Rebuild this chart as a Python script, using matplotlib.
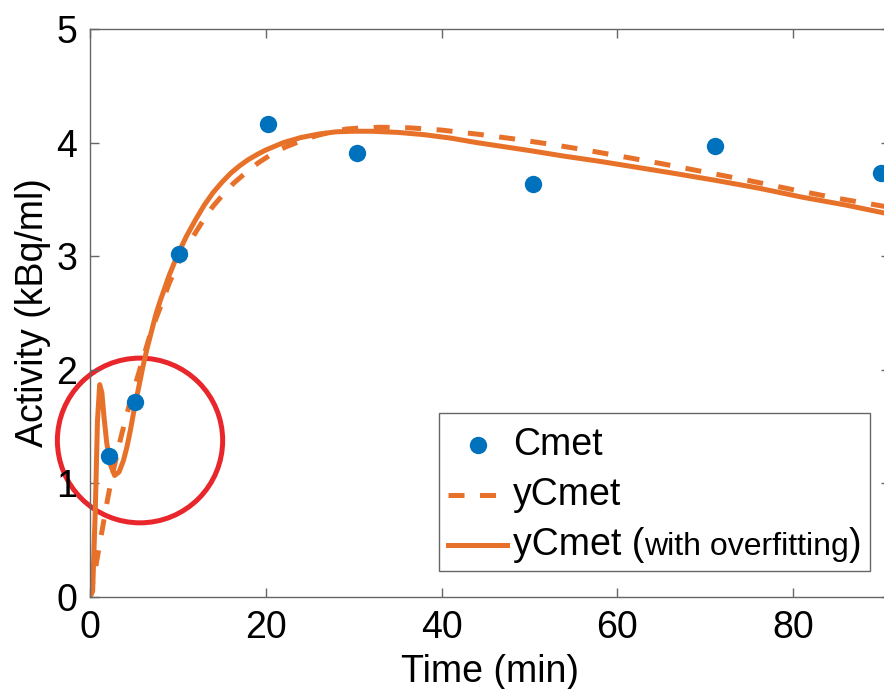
import matplotlib.pyplot as plt
from matplotlib.patches import Ellipse
from matplotlib.lines import Line2D
from matplotlib.offsetbox import AnchoredOffsetbox, DrawingArea, TextArea, HPacker, VPacker

plt.rcParams['font.family'] = ['Liberation Sans', 'DejaVu Sans']

# Measured metabolite activity (Cmet)
t_meas = [2.2, 5.1, 10.1, 20.3, 30.4, 50.4, 71.1, 90.0]
c_meas = [1.24, 1.72, 3.02, 4.16, 3.91, 3.64, 3.97, 3.73]

# Model fit yCmet
t_fit = [0, 0.5, 1.0, 1.5, 2.0, 2.5, 3.5, 4.5, 5.5, 6.8, 7.5, 8.15, 9.0, 10.2, 11.0,
         12.1, 13.0, 14.0, 15.0, 16.3, 17.5, 19.1, 20.5, 22.2, 24.0, 25.7, 27.5,
         29.2, 31.0, 33.0, 36.4, 40.0, 44.0, 48.0, 52.0, 56.0, 60.0, 65.0, 70.0,
         75.0, 80.0, 85.0, 91.0]
y_fit = [0, 0.2, 0.42, 0.64, 0.86, 1.06, 1.4, 1.7, 1.96, 2.3, 2.45, 2.58, 2.76, 2.97, 3.08,
         3.22, 3.33, 3.44, 3.53, 3.64, 3.72, 3.82, 3.89, 3.96, 4.015, 4.06, 4.095,
         4.12, 4.13, 4.135, 4.13, 4.11, 4.075, 4.035, 3.99, 3.94, 3.885, 3.815, 3.74,
         3.665, 3.585, 3.51, 3.43]

# Model fit yCmet with overfitting (spike in the first minutes)
t_over = [0, 0.3, 0.6, 0.85, 1.1, 1.35, 1.6, 1.9, 2.3, 2.8, 3.3, 3.8, 4.2, 4.6, 5.0,
          5.5, 6.0, 6.5, 7.0, 7.5, 8.0, 9.0, 10.0, 11.0, 12.0, 13.0, 14.0, 15.0,
          16.0, 17.0, 18.0, 19.0, 20.0, 22.0, 24.0, 26.0, 28.0, 30.0, 32.0, 35.0,
          38.0, 41.0, 44.0, 47.0, 50.0, 54.0, 58.0, 62.0, 66.0, 71.0, 76.0, 81.0,
          86.0, 91.0]
y_over = [0, 0.05, 0.75, 1.55, 1.87, 1.8, 1.58, 1.36, 1.17, 1.07, 1.1, 1.2, 1.32, 1.47, 1.64,
          1.83, 2.02, 2.19, 2.34, 2.49, 2.61, 2.83, 3.02, 3.18, 3.32, 3.45, 3.56, 3.65,
          3.73, 3.795, 3.85, 3.895, 3.935, 4.0, 4.045, 4.075, 4.095, 4.10, 4.10, 4.09,
          4.07, 4.04, 4.0, 3.965, 3.93, 3.88, 3.835, 3.785, 3.735, 3.67, 3.6, 3.52,
          3.45, 3.37]

blue = '#0072BD'
orange = '#E8712A'
grey = '#666666'
fs = 27

fig = plt.figure(figsize=(8.84, 6.89), dpi=100)
ax = fig.add_axes([0.1018, 0.1335, 0.905, 0.8244])

ax.plot(t_meas, c_meas, 'o', color=blue, markersize=12.5, markeredgewidth=0, zorder=3)
ax.plot(t_fit, y_fit, color=orange, lw=3.6, dashes=(3.2, 3.1))
ax.plot(t_over, y_over, color=orange, lw=3.6)

# highlight the overfitted region
ax.add_patch(Ellipse((5.69, 1.378), 18.8, 1.45, fill=False, edgecolor='#E8262B',
                     lw=3.6, clip_on=False, zorder=1.5))

ax.set_xlim(0, 91.0)
ax.set_ylim(0, 5)
ax.set_xticks([0, 20, 40, 60, 80])
ax.set_yticks([0, 1, 2, 3, 4, 5])
ax.tick_params(direction='in', length=6.5, width=1.0, color=grey, top=True, right=True,
               labelsize=fs, pad=9, labelcolor='black')
for s in ax.spines.values():
    s.set_color(grey)
    s.set_linewidth(1.0)
ax.set_xlabel('Time (min)', fontsize=fs, labelpad=6)
ax.set_ylabel('Activity (kBq/ml)', fontsize=fs, labelpad=4)


# legend built by hand so the last label can mix font sizes
def legend_key(**kw):
    da = DrawingArea(43, 20, 0, 0)
    if kw.get('marker'):
        da.add_artist(Line2D([21.5], [10], ls='none', **kw))
    else:
        da.add_artist(Line2D([0, 43], [10, 10], **kw))
    return da


tp = dict(size=fs, color='black')
row1 = HPacker(children=[legend_key(marker='o', color=blue, markersize=12.5, markeredgewidth=0),
                         TextArea('Cmet', textprops=tp)], sep=4, align='center', pad=0)
row2 = HPacker(children=[legend_key(color=orange, lw=3.6, dashes=(3.2, 3.1)),
                         TextArea('yCmet', textprops=tp)], sep=4, align='center', pad=0)
label3 = HPacker(children=[TextArea('yCmet (', textprops=tp),
                           TextArea('with overfitting', textprops=dict(size=23, color='black')),
                           TextArea(')', textprops=tp)], sep=0, align='baseline', pad=0)
row3 = HPacker(children=[legend_key(color=orange, lw=3.6), label3], sep=4, align='center', pad=0)
rows = VPacker(children=[row1, row2, row3], sep=10, align='left', pad=0)
# a little extra room above the first entry
box = VPacker(children=[DrawingArea(1, 4), rows], sep=0, align='left', pad=0)
leg = AnchoredOffsetbox(loc='lower right', child=box, pad=0.6, borderpad=0, frameon=True,
                        bbox_to_anchor=(0.975, 0.046), bbox_transform=ax.transAxes)
leg.patch.set_edgecolor(grey)
leg.patch.set_linewidth(1.0)
ax.add_artist(leg)

fig.savefig('out.png', dpi=100)
